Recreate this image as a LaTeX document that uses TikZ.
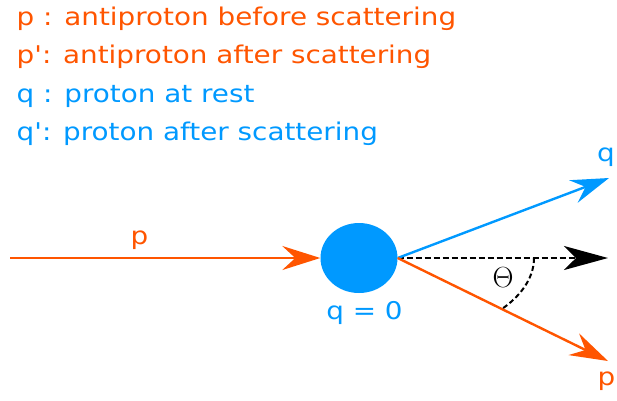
\documentclass[tikz,border=0pt]{standalone}
\usepackage[no-math]{fontspec}
\newfontfamily\legendfont{DejaVu Sans}[FakeStretch=1.14]
\usetikzlibrary{arrows.meta,shapes.geometric,calc}
\definecolor{antired}{HTML}{FF5500}
\definecolor{protblue}{HTML}{0099FF}

\begin{document}
\begin{tikzpicture}[x=1pt,y=-1pt,
        every node/.style={inner sep=0pt, font=\legendfont\fontsize{24.4}{29}\selectfont},
        legend/.style={anchor=base west},
        redline/.style={draw=antired, line width=2.4pt, -{Stealth[length=38pt,width=24pt,inset=13pt]}},
        blueline/.style={draw=protblue, line width=2.4pt, -{Stealth[length=38pt,width=24pt,inset=13pt]}},
        axisline/.style={draw=black, line width=2.4pt, dash pattern=on 6pt off 3pt, -{Stealth[length=44pt,width=24pt,inset=12pt]}},
        anglearc/.style={draw=black, line width=2pt, dash pattern=on 5pt off 3pt}]

        \useasboundingbox (0,0) rectangle (617,400);

        % Legend
        \node[legend, text=antired] (leg1) at (16.5,25) {p : antiproton before scattering};
        \node[legend, text=antired] (leg2) at (16.5,63) {p': antiproton after scattering};
        \node[legend, text=protblue] (leg3) at (16.5,102) {q : proton at rest};
        \node[legend, text=protblue] (leg4) at (16.5,140) {q': proton after scattering};

        % Target proton and the end points of the tracks
        \node[ellipse, fill=protblue, minimum width=77pt, minimum height=70pt] (proton) at (359,258) {};
        \coordinate (start) at (10,258);
        \coordinate (qout) at (609,178);
        \coordinate (fwd) at (608,258);
        \coordinate (pout) at (608,361);
        \coordinate (arcA) at (534,258);
        \coordinate (arcB) at ($(proton.east)!0.495!(pout)$);

        % Tracks
        \draw[redline] (start) -- (proton.west);
        \draw[axisline] (proton.east) -- (fwd);
        \draw[blueline] (proton.east) -- (qout);
        \draw[redline] (proton.east) -- (pout);
        \draw[anglearc] (arcA) .. controls (534,280) and (518,298) .. (arcB);

        % Labels
        \node[text=antired] (pin) at (139.5,240.5) {p};
        \node[anchor=base, text=protblue] (rest) at (364.5,319) {q = 0};
        \node[text=protblue] (qlab) at (606,157.5) {q};
        \node[text=antired] (plab) at (606.5,381) {p};
        \node[font=\fontsize{24.88}{25}\selectfont] (theta) at (503,278) {\scalebox{1.17}{$\Theta$}};
\end{tikzpicture}
\end{document}
